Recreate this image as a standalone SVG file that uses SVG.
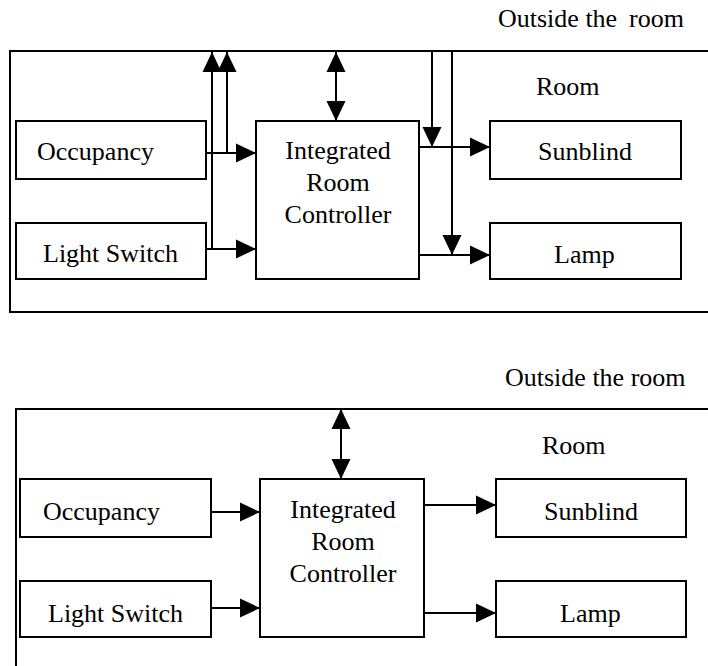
<svg xmlns="http://www.w3.org/2000/svg" width="708" height="666" viewBox="0 0 708 666">
  <style>
    .box { fill: #ffffff; stroke: #000000; stroke-width: 2; }
    .frame { fill: none; stroke: #000000; stroke-width: 2; }
    .wire { fill: none; stroke: #000000; stroke-width: 2; }
    .lbl { font-family: "Liberation Serif", "Times New Roman", serif; font-size: 26px; fill: #000000; }
    .mid { text-anchor: middle; }
  </style>
  <defs>
    <marker id="arrow" viewBox="0 0 20 20" refX="20" refY="10" markerWidth="20" markerHeight="20" markerUnits="userSpaceOnUse" orient="auto-start-reverse">
      <path d="M0,0.5 L20,10 L0,19.5 z" fill="#000000"/>
    </marker>
  </defs>

  <rect width="708" height="666" fill="#ffffff"/>

  <!-- Upper variant: controller with signal taps to the outside -->
  <g id="outside-top">
    <text class="lbl" x="498" y="27">Outside the</text>
    <text class="lbl" x="629" y="27">room</text>
  </g>
  <g id="room-top">
    <rect class="frame" x="10" y="51" width="710" height="261"/>
    <text class="lbl" x="536" y="95">Room</text>
  </g>
  <g id="occupancy-top">
    <rect class="box" x="16" y="121" width="190" height="58"/>
    <text class="lbl" x="37" y="160">Occupancy</text>
  </g>
  <g id="lightswitch-top">
    <rect class="box" x="16" y="223" width="190" height="56"/>
    <text class="lbl" x="43" y="262">Light Switch</text>
  </g>
  <g id="controller-top">
    <rect class="box" x="256" y="121" width="163" height="158"/>
    <text class="lbl mid" x="338" y="159">Integrated</text>
    <text class="lbl mid" x="338" y="191">Room</text>
    <text class="lbl mid" x="338" y="223">Controller</text>
  </g>
  <g id="sunblind-top">
    <rect class="box" x="490" y="121" width="191" height="58"/>
    <text class="lbl" x="538" y="160">Sunblind</text>
  </g>
  <g id="lamp-top">
    <rect class="box" x="490" y="223" width="191" height="56"/>
    <text class="lbl" x="554" y="263">Lamp</text>
  </g>

  <!-- Lower variant: controller as the single link to the outside -->
  <g id="outside-bottom">
    <text class="lbl" x="505" y="386">Outside the room</text>
  </g>
  <g id="room-bottom">
    <path class="frame" d="M710,409 H16 V668"/>
    <text class="lbl" x="542" y="454">Room</text>
  </g>
  <g id="occupancy-bottom">
    <rect class="box" x="20" y="479" width="191" height="58"/>
    <text class="lbl" x="43" y="520">Occupancy</text>
  </g>
  <g id="lightswitch-bottom">
    <rect class="box" x="20" y="581" width="191" height="56"/>
    <text class="lbl" x="48" y="622">Light Switch</text>
  </g>
  <g id="controller-bottom">
    <rect class="box" x="260" y="479" width="164" height="158"/>
    <text class="lbl mid" x="343" y="518">Integrated</text>
    <text class="lbl mid" x="343" y="550">Room</text>
    <text class="lbl mid" x="343" y="582">Controller</text>
  </g>
  <g id="sunblind-bottom">
    <rect class="box" x="496" y="479" width="190" height="58"/>
    <text class="lbl" x="544" y="520">Sunblind</text>
  </g>
  <g id="lamp-bottom">
    <rect class="box" x="496" y="581" width="190" height="56"/>
    <text class="lbl" x="560" y="622">Lamp</text>
  </g>

  <!-- Connectors -->
  <g id="connectors">
    <!-- upper variant -->
    <path class="wire" d="M206,153 H256" marker-end="url(#arrow)"/>
    <path class="wire" d="M206,249 H256" marker-end="url(#arrow)"/>
    <path class="wire" d="M227,153 V52" marker-end="url(#arrow)"/>
    <path class="wire" d="M212,249 V52" marker-end="url(#arrow)"/>
    <path class="wire" d="M336,52 V121" marker-start="url(#arrow)" marker-end="url(#arrow)"/>
    <path class="wire" d="M419,147 H490" marker-end="url(#arrow)"/>
    <path class="wire" d="M419,255 H490" marker-end="url(#arrow)"/>
    <path class="wire" d="M432,51 V147" marker-end="url(#arrow)"/>
    <path class="wire" d="M452,51 V255" marker-end="url(#arrow)"/>
    <!-- lower variant -->
    <path class="wire" d="M211,512 H260" marker-end="url(#arrow)"/>
    <path class="wire" d="M211,608 H260" marker-end="url(#arrow)"/>
    <path class="wire" d="M341,409 V479" marker-start="url(#arrow)" marker-end="url(#arrow)"/>
    <path class="wire" d="M424,505 H496" marker-end="url(#arrow)"/>
    <path class="wire" d="M424,613 H496" marker-end="url(#arrow)"/>
  </g>
</svg>
